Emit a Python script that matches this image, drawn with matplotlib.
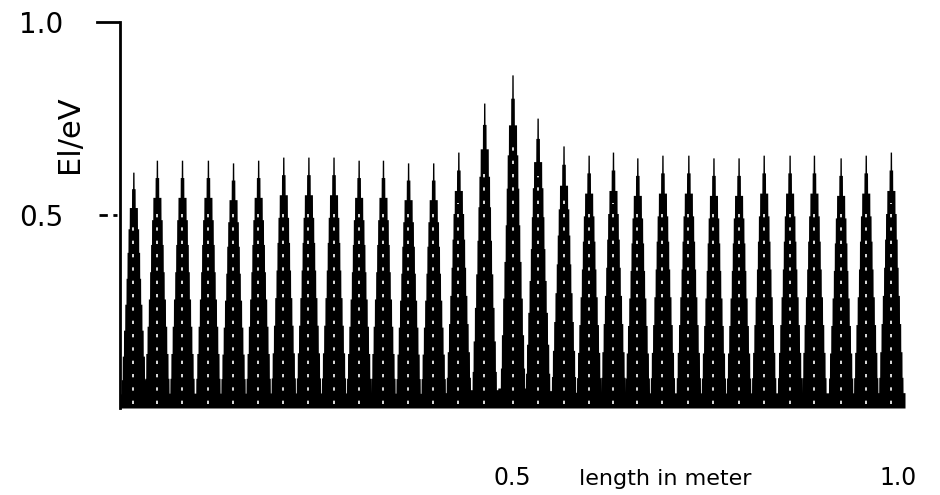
import matplotlib
matplotlib.use("Agg")
import matplotlib.pyplot as plt
import numpy as np

# peak centres along the structure (m) and peak heights (El/eV)
peak_pos = [0.017, 0.047, 0.079, 0.112, 0.144, 0.176, 0.208, 0.240, 0.272, 0.304,
            0.335, 0.367, 0.399, 0.431, 0.464, 0.500, 0.532, 0.565, 0.597, 0.628,
            0.659, 0.691, 0.724, 0.756, 0.788, 0.820, 0.853, 0.884, 0.918, 0.950,
            0.982]
peak_height = [0.611, 0.642, 0.642, 0.642, 0.635, 0.642, 0.650, 0.650, 0.650, 0.642,
               0.642, 0.635, 0.635, 0.663, 0.790, 0.863, 0.751, 0.679, 0.655, 0.663,
               0.648, 0.655, 0.655, 0.648, 0.648, 0.655, 0.655, 0.655, 0.648, 0.655,
               0.663]

y_ticks = [0.5, 1.0]
y_tick_labels = ["0.5", "1.0"]

# stepped spike outline: fraction of peak height vs half width (in cell units)
STEP_HW = np.array([0.03, 0.07, 0.16, 0.21, 0.25, 0.29, 0.34, 0.39, 0.44, 0.48, 0.58])
STEP_F = np.array([1.0, 0.93, 0.85, 0.76, 0.66, 0.55, 0.44, 0.33, 0.22, 0.12, 0.06, 0.0])

fig = plt.figure(figsize=(9.4, 4.95), dpi=100)
ax = fig.add_axes([120 / 940, 1 - 408 / 495, 785 / 940, 386 / 495])

x = np.linspace(0, 1, 8001)
env = np.zeros_like(x)
cell = 1.0 / len(peak_pos)
for c, h in zip(peak_pos, peak_height):
    d = np.abs(x - c) / cell
    k = np.searchsorted(STEP_HW, d)
    env = np.maximum(env, h * STEP_F[k])
ax.fill_between(x, 0, env, color="black", lw=0)

# dithering speckle along the spike centres
for c, h in zip(peak_pos, peak_height):
    ax.plot([c, c], [0.01, 0.8 * h], color="white", lw=1.2,
            dashes=(2, 6), solid_capstyle="butt")

ax.set_xlim(0, 1)
ax.set_ylim(0, 1)
for s in ["top", "right", "bottom"]:
    ax.spines[s].set_visible(False)
ax.spines["left"].set_linewidth(2)

ax.set_xticks([])
ax.set_yticks(y_ticks)
ax.set_yticklabels(y_tick_labels, fontsize=20)
ax.tick_params(axis="y", length=0, pad=41)

# hand drawn tick marks (0.5 is dashed in the original)
tr = ax.get_yaxis_transform()
ax.plot([-0.029, -0.002], [1.0, 1.0], color="black", lw=2, transform=tr, clip_on=False)
ax.plot([-0.027, -0.004], [0.5, 0.5], color="black", lw=2, transform=tr,
        clip_on=False, dashes=(3, 2))

ax.text(-0.064, 0.71, "El/eV", rotation=90, fontsize=22, ha="center", va="center",
        transform=ax.transAxes)

xt = ax.get_xaxis_transform()
ax.text(0.5, -0.199, "0.5", fontsize=17, ha="center", va="baseline", transform=xt)
ax.text(0.694, -0.199, "length in meter", fontsize=16, ha="center", va="baseline", transform=xt)
ax.text(0.991, -0.199, "1.0", fontsize=17, ha="center", va="baseline", transform=xt)

fig.savefig("out.png", dpi=100)
